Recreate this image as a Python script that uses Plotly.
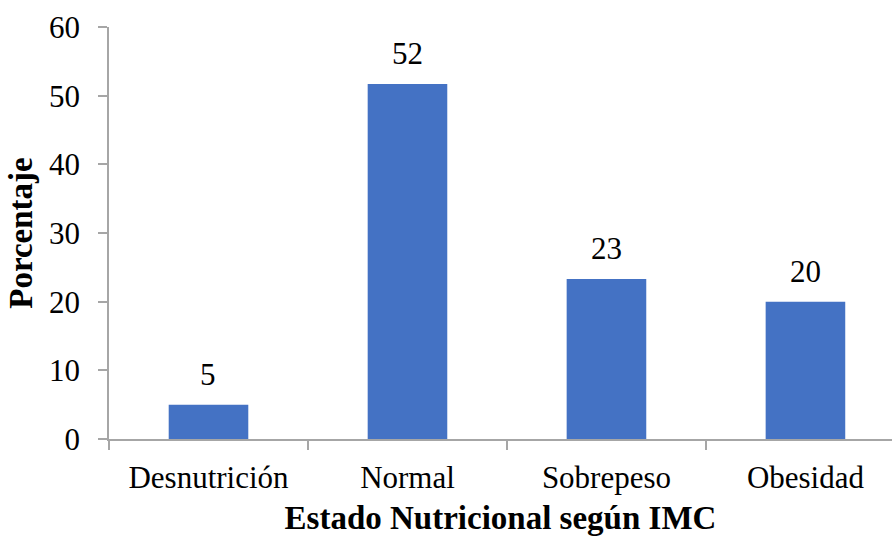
import plotly.graph_objects as go

# Nutritional status by BMI (percentage of participants)
categories = ["Desnutrición", "Normal", "Sobrepeso", "Obesidad"]
percentages = [5.0, 51.7, 23.3, 20.0]
y_ticks = [0, 10, 20, 30, 40, 50, 60]

SERIF = "Liberation Serif, Times New Roman, serif"
AXIS_GREY = "#A6A6A6"
BAR_BLUE = "#4472C4"
FS = 31
TITLE_FS = 33

fig = go.Figure(
    go.Bar(
        x=categories,
        y=percentages,
        width=0.4,
        marker=dict(color=BAR_BLUE, line=dict(width=0)),
        hoverinfo="x+y",
    )
)

# value labels above each bar
for cat, val in zip(categories, percentages):
    fig.add_annotation(
        x=cat,
        y=val,
        text=f"{val:.0f}",
        showarrow=False,
        yanchor="bottom",
        yshift=11,
        font=dict(family=SERIF, size=FS, color="black"),
    )

fig.update_layout(
    width=892,
    height=538,
    margin=dict(l=109, r=0, t=27, b=99),
    plot_bgcolor="white",
    paper_bgcolor="white",
    showlegend=False,
    font=dict(family=SERIF, color="black"),
)

fig.update_xaxes(
    range=[-0.5, 3.435],
    showline=True,
    linecolor=AXIS_GREY,
    linewidth=1.5,
    ticks="outside",
    tickson="boundaries",
    ticklen=9,
    tickcolor=AXIS_GREY,
    tickwidth=1.5,
    tickfont=dict(family=SERIF, size=FS, color="black"),
    ticklabelstandoff=10,
    showgrid=False,
    title=dict(
        text="<b>Estado Nutricional según IMC</b>",
        font=dict(family=SERIF, size=TITLE_FS, color="black"),
        standoff=12,
    ),
)

fig.update_yaxes(
    range=[0, 60],
    tickvals=y_ticks,
    showline=True,
    linecolor=AXIS_GREY,
    linewidth=1.5,
    ticks="outside",
    ticklen=9,
    tickcolor=AXIS_GREY,
    tickwidth=1.5,
    tickfont=dict(family=SERIF, size=FS, color="black"),
    ticklabelstandoff=12,
    showgrid=False,
    zeroline=False,
    title=dict(
        text="<b>Porcentaje</b>",
        font=dict(family=SERIF, size=TITLE_FS, color="black"),
        standoff=6,
    ),
)

fig.write_html("out.html")
